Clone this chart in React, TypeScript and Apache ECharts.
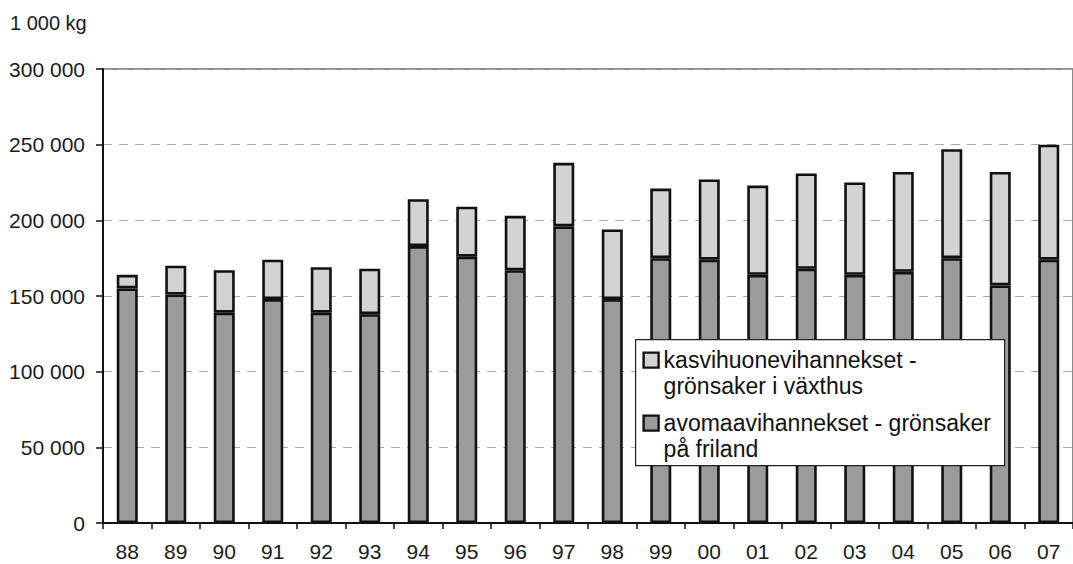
import React, { useEffect, useRef } from "react";
import * as echarts from "echarts";

const years = ["88", "89", "90", "91", "92", "93", "94", "95", "96", "97", "98", "99", "00", "01", "02", "03", "04", "05", "06", "07"];
const openField = [155000, 151000, 139000, 148000, 139000, 138000, 183000, 176000, 167000, 196000, 148000, 175000, 174000, 164000, 168000, 164000, 166000, 175000, 157000, 174000];
const greenhouse = [9000, 19000, 28000, 26000, 30000, 30000, 31000, 33000, 36000, 42000, 46000, 46000, 53000, 59000, 63000, 61000, 66000, 72000, 75000, 76000];
const yTicks = [0, 50000, 100000, 150000, 200000, 250000, 300000];
const unitLabel = "1 000 kg";
const nameGreenhouse = "kasvihuonevihannekset -\ngrönsaker i växthus";
const nameOpen = "avomaavihannekset - grönsaker\npå friland";

const FONT = "'Liberation Sans', Arial, sans-serif";
const DARK = "#9b9b9b";
const LIGHT = "#d3d3d3";

const fmt = (v: number) => String(v).replace(/\B(?=(\d{3})+(?!\d))/g, " ");

export default function App() {
  const ref = useRef<HTMLDivElement>(null);
  useEffect(() => {
    if (!ref.current) return;
    const chart = echarts.init(ref.current, null, { renderer: "svg" });
    chart.setOption({
      animation: false,
      backgroundColor: "#ffffff",
      title: {
        text: unitLabel,
        left: 10,
        top: 13,
        padding: 0,
        textStyle: { fontFamily: FONT, fontSize: 20, fontWeight: "normal", color: "#1a1a1a" },
      },
      grid: {
        left: 103,
        right: -10,
        top: 69,
        bottom: 41,
        show: true,
        borderColor: "#8a8a8a",
        borderWidth: 2,
        backgroundColor: "transparent",
      },
      xAxis: {
        type: "category",
        data: years,
        axisLine: { lineStyle: { color: "#111", width: 2 } },
        axisTick: { show: true, length: 6, lineStyle: { color: "#111", width: 1.5 } },
        axisLabel: { fontFamily: FONT, fontSize: 21, color: "#1a1a1a", margin: 18 },
      },
      yAxis: {
        type: "value",
        min: yTicks[0],
        max: yTicks[yTicks.length - 1],
        interval: yTicks[1] - yTicks[0],
        axisLine: { show: true, lineStyle: { color: "#111", width: 2 } },
        axisTick: { show: true, length: 7, lineStyle: { color: "#111", width: 1.5 } },
        axisLabel: { fontFamily: FONT, fontSize: 21, color: "#1a1a1a", margin: 18, formatter: (v: number) => fmt(v) },
        splitLine: { show: true, lineStyle: { color: "#a8a8a8", type: [9, 7], width: 1.2 } },
      },
      series: [
        {
          name: nameOpen,
          type: "bar",
          stack: "total",
          data: openField,
          barWidth: 21,
          itemStyle: { color: DARK, borderColor: "#111", borderWidth: 2.6 },
        },
        {
          name: nameGreenhouse,
          type: "bar",
          stack: "total",
          data: greenhouse,
          barWidth: 21,
          itemStyle: { color: LIGHT, borderColor: "#111", borderWidth: 2.6 },
        },
      ],
      graphic: [
        {
          type: "group",
          left: 635,
          top: 339,
          z: 100,
          children: [
            { type: "rect", z: 100, shape: { x: 0, y: 0, width: 369, height: 126 }, style: { fill: "#fff", stroke: "#222", lineWidth: 1.2 } },
            { type: "rect", z: 101, shape: { x: 8, y: 13, width: 15, height: 15 }, style: { fill: LIGHT, stroke: "#111", lineWidth: 2.4 } },
            {
              type: "text",
              z: 101,
              x: 28,
              y: 7,
              style: { text: nameGreenhouse, font: `23px ${FONT}`, fill: "#111", lineHeight: 26 },
            },
            { type: "rect", z: 101, shape: { x: 8, y: 76, width: 15, height: 15 }, style: { fill: DARK, stroke: "#111", lineWidth: 2.4 } },
            {
              type: "text",
              z: 101,
              x: 28,
              y: 70,
              style: { text: nameOpen, font: `23px ${FONT}`, fill: "#111", lineHeight: 26 },
            },
          ],
        },
      ],
    });
    return () => chart.dispose();
  }, []);
  return <div ref={ref} style={{ position: "fixed", left: 0, top: 0, width: 1073, height: 564 }} />;
}
